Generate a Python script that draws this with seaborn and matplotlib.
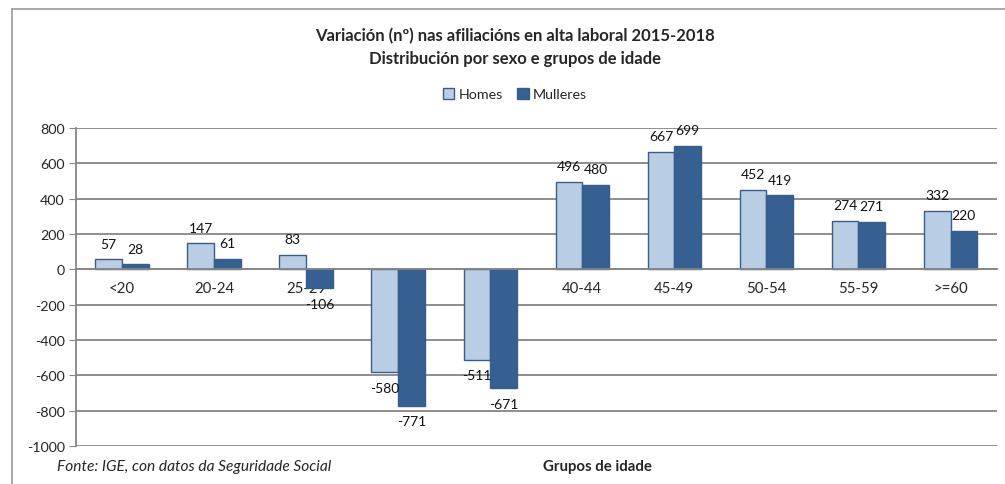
import pandas as pd
import matplotlib.pyplot as plt
import seaborn as sns
from matplotlib.lines import Line2D

# %% Data
grupos = ['<20', '20-24', '25-29', '30-34', '35-39', '40-44', '45-49', '50-54', '55-59', '>=60']
homes = [57, 147, 83, -580, -511, 496, 667, 452, 274, 332]
mulleres = [28, 61, -106, -771, -671, 480, 699, 419, 271, 220]

df = pd.DataFrame({
    'grupo': grupos * 2,
    'valor': homes + mulleres,
    'sexo': ['Homes'] * len(grupos) + ['Mulleres'] * len(grupos),
})

# %% Style
sns.set_style('white')
plt.rcParams['font.family'] = ['Lato', 'DejaVu Sans']
plt.rcParams['axes.unicode_minus'] = False

fig = plt.figure(figsize=(10.05, 4.85), dpi=100)
ax = fig.add_axes([0.0756, 0.078, 0.916, 0.656])

palette = {'Homes': '#B9CDE5', 'Mulleres': '#366092'}
sns.barplot(data=df, x='grupo', y='valor', hue='sexo', palette=palette,
            width=0.58, edgecolor='#385D8A', linewidth=1, saturation=1, ax=ax)

# data labels (Excel puts them a bit away from the bar end)
for cont in ax.containers:
    ax.bar_label(cont, padding=7, fontsize=10, color='#111111')

ax.set_ylim(-1000, 800)
ax.set_yticks(range(-1000, 801, 200))
ax.set_xlim(-0.5, len(grupos) - 0.5)
ax.yaxis.grid(True, color='#868686', linewidth=1.3)
ax.set_axisbelow(True)

for s in ['top', 'right']:
    ax.spines[s].set_visible(False)
ax.spines['left'].set_color('#868686')
ax.spines['left'].set_linewidth(1.3)
ax.spines['bottom'].set_position(('data', 0))
ax.spines['bottom'].set_color('#868686')
ax.spines['bottom'].set_linewidth(1.3)

ax.tick_params(axis='y', left=True, length=5, color='#868686', labelsize=10.3, pad=3)
ax.tick_params(axis='x', which='major', length=0, labelsize=10.8, pad=8)
ax.set_xticks([i + 0.5 for i in range(len(grupos))], minor=True)
ax.tick_params(axis='x', which='minor', length=5, color='#868686', direction='out')
ax.set_xlabel('')
ax.set_ylabel('')

# legend
leg = ax.legend(loc='center', bbox_to_anchor=(0.477, 1.107), ncol=2, frameon=False,
                fontsize=10.3, handlelength=0.8, handleheight=0.8, handletextpad=0.3,
                columnspacing=1.0, borderaxespad=0, borderpad=0)

# titles
fig.text(0.512, 0.925, 'Variación (nº) nas afiliacións en alta laboral 2015-2018',
         ha='center', va='center', fontsize=12, fontweight='bold')
fig.text(0.512, 0.878, 'Distribución por sexo e grupos de idade',
         ha='center', va='center', fontsize=12, fontweight='bold')

fig.text(0.057, 0.037, 'Fonte: IGE, con datos da Seguridade Social',
         ha='left', va='center', fontsize=11.2, fontstyle='italic')
fig.text(0.594, 0.037, 'Grupos de idade', ha='center', va='center',
         fontsize=10.8, fontweight='bold')

# outer frame of the chart
fig.add_artist(Line2D([0.012, 0.012], [0.0, 0.979], color='#9a9a9a', linewidth=1.2,
                      transform=fig.transFigure))
fig.add_artist(Line2D([0.012, 1.0], [0.979, 0.979], color='#9a9a9a', linewidth=1.2,
                      transform=fig.transFigure))

fig.savefig('out.png', dpi=100)
